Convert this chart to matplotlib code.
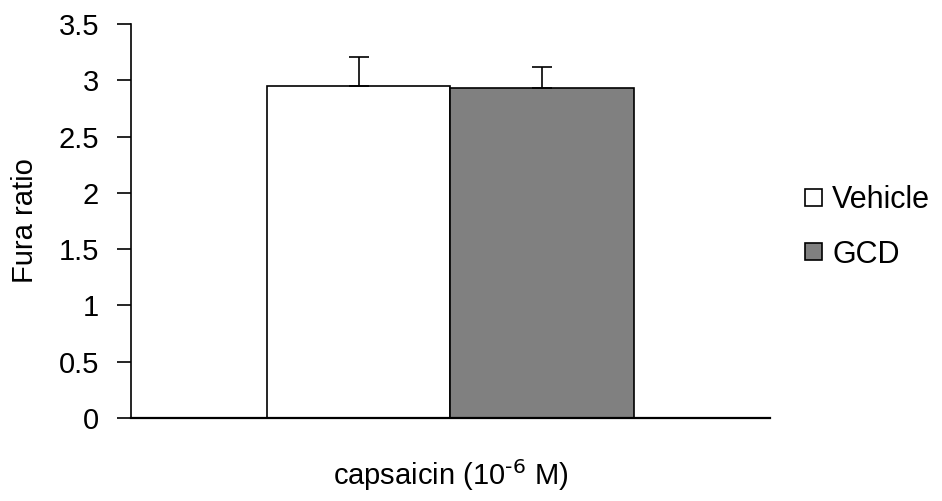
import matplotlib.pyplot as plt

plt.rcParams['font.family'] = ['Liberation Sans', 'DejaVu Sans']

groups = ["Vehicle", "GCD"]
means = [2.95, 2.93]
errors = [0.26, 0.19]
colors = ["white", "#808080"]

fig = plt.figure(figsize=(9.42, 5.01), dpi=100)
ax = fig.add_axes([131 / 942, 1 - 418 / 501, 639 / 942, 394 / 501])

width = 0.287
offsets = [-width / 2, width / 2]
for name, m, e, c, off in zip(groups, means, errors, colors, offsets):
    ax.bar(off, m, width=width, color=c, edgecolor="black", linewidth=1.2, label=name)
    ax.errorbar(off, m, yerr=[[0], [e]], fmt="none", ecolor="black",
                elinewidth=1.2, capsize=7, capthick=1.2)

ax.set_xlim(-0.5, 0.5)
ax.set_ylim(0, 3.5)
ax.set_yticks([0, 0.5, 1, 1.5, 2, 2.5, 3, 3.5])
ax.set_yticklabels(["0", "0.5", "1", "1.5", "2", "2.5", "3", "3.5"])
ax.set_xticks([])
ax.spines["top"].set_visible(False)
ax.spines["right"].set_visible(False)
ax.spines["left"].set_linewidth(1.2)
ax.spines["bottom"].set_linewidth(1.6)
ax.tick_params(axis="y", direction="out", length=10, width=1.2, labelsize=21, pad=13)

ax.set_ylabel("Fura ratio", fontsize=21, va="center", ha="center")
ax.yaxis.set_label_coords(-0.166, 0.5)
ax.set_xlabel("capsaicin (10$^{\\text{-6}}$ M)", fontsize=21, va="center")
ax.xaxis.set_label_coords(0.5, -0.145)

leg = ax.legend(loc="center left", bbox_to_anchor=(805 / 942, 1 - 227.5 / 501),
                bbox_transform=fig.transFigure, frameon=False,
                fontsize=22, handlelength=0.56, handleheight=0.47,
                handletextpad=0.33, labelspacing=0.8, borderpad=0, borderaxespad=0)

fig.patch.set_facecolor("white")
plt.savefig("out.png", dpi=100)
plt.close()
